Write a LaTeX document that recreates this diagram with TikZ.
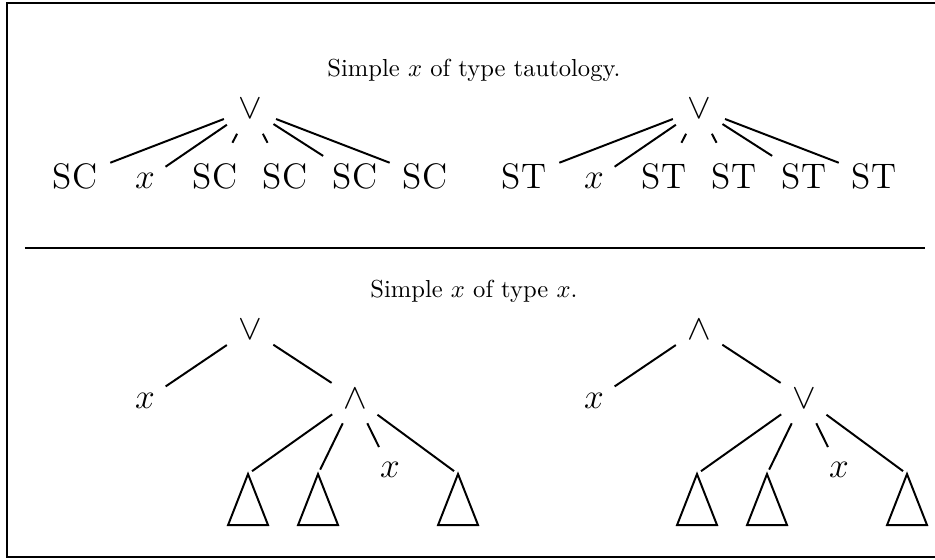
\documentclass[tikz,border=0pt]{standalone}
\usepackage{amsmath}
\usepackage{tikz}

\begin{document}
\begin{tikzpicture}[line width=0.8pt,
  op/.style={circle, font=\Large},
  leaf/.style={circle, font=\Large, anchor=base},
  toroof/.style={shorten >=2pt}]
\useasboundingbox (0,0) rectangle (13.357,7.986);
\draw (13.6,0.024) -- (0.1,0.024) -- (0.1,7.943) -- (13.6,7.943);
\draw (0.357,4.443) -- (13.214,4.443);

\node [anchor=base] (cap1) at (6.77,6.886) {Simple $x$ of type tautology.};
\node [op] (or1) at (3.571,6.429) {$\vee$};
\node [leaf] (sc1) at (1.071,5.294) {SC};
\node [leaf] (xa) at (2.071,5.294) {$x$};
\node [leaf] (sc2) at (3.071,5.294) {SC};
\node [leaf] (sc3) at (4.071,5.294) {SC};
\node [leaf] (sc4) at (5.071,5.294) {SC};
\node [leaf] (sc5) at (6.071,5.294) {SC};
\draw (or1) -- (sc1);
\draw (or1) -- (xa);
\draw (or1) -- (sc2);
\draw (or1) -- (sc3);
\draw (or1) -- (sc4);
\draw (or1) -- (sc5);

\node [op] (or2) at (9.985,6.429) {$\vee$};
\node [leaf] (st1) at (7.486,5.294) {ST};
\node [leaf] (xb) at (8.486,5.294) {$x$};
\node [leaf] (st2) at (9.486,5.294) {ST};
\node [leaf] (st3) at (10.486,5.294) {ST};
\node [leaf] (st4) at (11.486,5.294) {ST};
\node [leaf] (st5) at (12.486,5.294) {ST};
\draw (or2) -- (st1);
\draw (or2) -- (xb);
\draw (or2) -- (st2);
\draw (or2) -- (st3);
\draw (or2) -- (st4);
\draw (or2) -- (st5);

\node [anchor=base] (cap2) at (6.77,3.729) {Simple $x$ of type $x$.};
\node [op] (or3) at (3.571,3.28) {$\vee$};
\node [leaf] (xc) at (2.071,2.157) {$x$};
\node [leaf] (and1) at (5.071,2.157) {$\wedge$};
\node [leaf] (xd) at (5.571,1.171) {$x$};
\coordinate (t1) at (3.543,1.214);
\coordinate (t2) at (4.543,1.214);
\coordinate (t3) at (6.543,1.214);
\draw (or3) -- (xc);
\draw (or3) -- (and1);
\draw [toroof] (and1) -- (t1);
\draw [toroof] (and1) -- (t2);
\draw (and1) -- (xd);
\draw [toroof] (and1) -- (t3);

\node [op] (and2) at (9.985,3.28) {$\wedge$};
\node [leaf] (xe) at (8.485,2.157) {$x$};
\node [leaf] (or4) at (11.485,2.157) {$\vee$};
\node [leaf] (xf) at (11.985,1.171) {$x$};
\coordinate (u1) at (9.957,1.214);
\coordinate (u2) at (10.957,1.214);
\coordinate (u3) at (12.957,1.214);
\draw (and2) -- (xe);
\draw (and2) -- (or4);
\draw [toroof] (or4) -- (u1);
\draw [toroof] (or4) -- (u2);
\draw (or4) -- (xf);
\draw [toroof] (or4) -- (u3);

\draw (t1) -- ++(0.286,-0.729) -- ++(-0.571,0) -- cycle;
\draw (t2) -- ++(0.286,-0.729) -- ++(-0.571,0) -- cycle;
\draw (t3) -- ++(0.286,-0.729) -- ++(-0.571,0) -- cycle;
\draw (u1) -- ++(0.286,-0.729) -- ++(-0.571,0) -- cycle;
\draw (u2) -- ++(0.286,-0.729) -- ++(-0.571,0) -- cycle;
\draw (u3) -- ++(0.286,-0.729) -- ++(-0.571,0) -- cycle;
\end{tikzpicture}
\end{document}
